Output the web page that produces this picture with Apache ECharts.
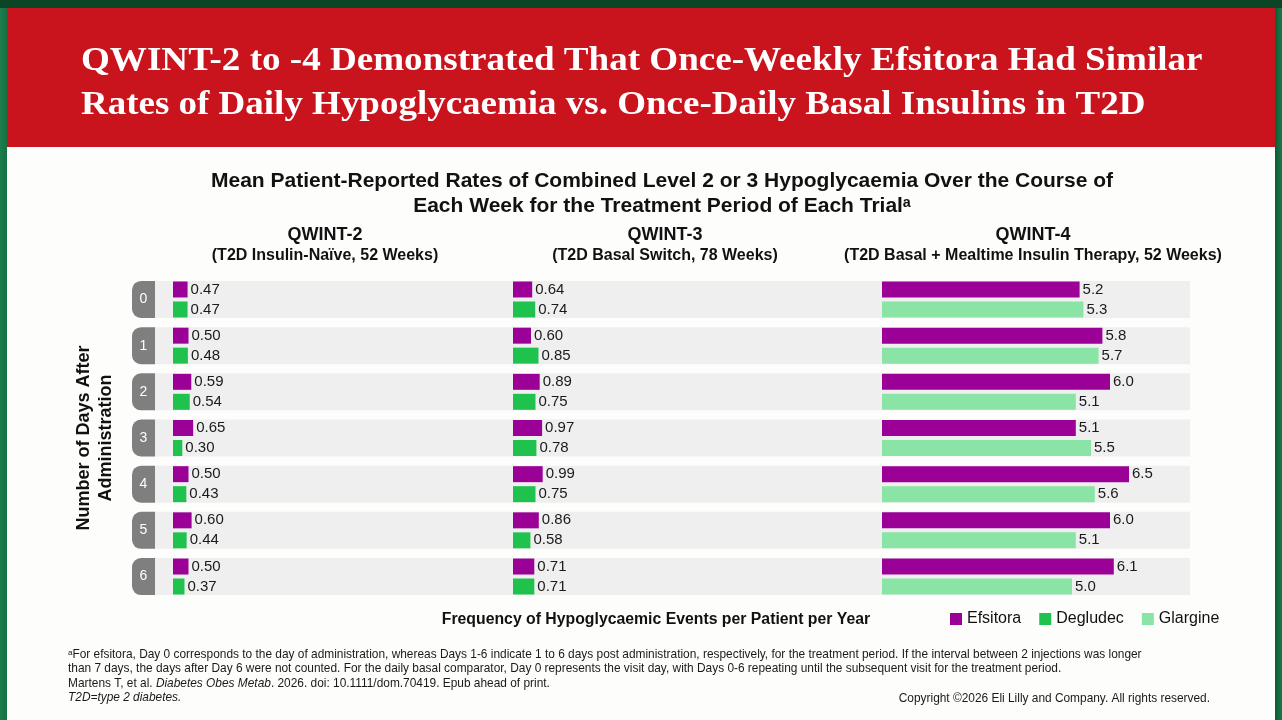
<!DOCTYPE html>
<html>
<head>
<meta charset="utf-8">
<script src="https://cdn.jsdelivr.net/npm/echarts@6/dist/echarts.min.js"></script>
<style>
html,body{margin:0;padding:0;width:1282px;height:720px;overflow:hidden;
  background:linear-gradient(to right,#1c7d4b 0px,#157043 7px,#0f5a35 1275px,#1a7a4a 1282px);}
#top{position:absolute;left:0;top:0;width:1282px;height:8px;background:#0c4526;}
#slide{position:absolute;left:7px;top:8px;width:1268px;height:712px;background:#fdfdfc;}
#band{position:absolute;left:7px;top:8px;width:1268px;height:139px;background:#c9131d;}
#chart{position:absolute;left:0;top:0;width:1282px;height:720px;}
</style>
</head>
<body>
<div id="top"></div>
<div id="slide"></div>
<div id="band"></div>
<div id="chart"></div>
<script>
// ---- data ----
const days = ['0', '1', '2', '3', '4', '5', '6'];
const q2Efsitora = [0.47, 0.50, 0.59, 0.65, 0.50, 0.60, 0.50];
const q2Degludec = [0.47, 0.48, 0.54, 0.30, 0.43, 0.44, 0.37];
const q3Efsitora = [0.64, 0.60, 0.89, 0.97, 0.99, 0.86, 0.71];
const q3Degludec = [0.74, 0.85, 0.75, 0.78, 0.75, 0.58, 0.71];
const q4Efsitora = [5.2, 5.8, 6.0, 5.1, 6.5, 6.0, 6.1];
const q4Glargine = [5.3, 5.7, 5.1, 5.5, 5.6, 5.1, 5.0];
const legendNames = ['Efsitora', 'Degludec', 'Glargine'];

// ---- styles ----
const C_EFS = '#9b0097', C_DEG = '#1ec24c', C_GLA = '#8ae4a5';
const FONT = 'Liberation Sans, Arial, sans-serif';
const SERIF = 'Liberation Serif, Times New Roman, serif';
const TOP = 276.4, HEIGHT = 323.2;

const chart = echarts.init(document.getElementById('chart'));

function grid(left, width) { return { left: left, width: width, top: TOP, height: HEIGHT, containLabel: false }; }
function valAxis(gi, max) {
  return { type: 'value', gridIndex: gi, min: 0, max: max, show: false };
}
function catAxis(gi) {
  return {
    type: 'category', gridIndex: gi, data: days, inverse: true,
    axisLine: { show: false }, axisTick: { show: false }, splitLine: { show: false },
    axisLabel: { show: false }
  };
}
function barSeries(name, gi, data, color, digits) {
  return {
    type: 'bar', name: name, xAxisIndex: gi, yAxisIndex: gi, data: data,
    barWidth: 16, barGap: '25%', itemStyle: { color: color },
    label: {
      show: true, position: 'right', distance: 3,
      formatter: p => Number(p.value).toFixed(digits),
      fontFamily: FONT, fontSize: 15, color: '#1a1a1a'
    },
    emphasis: { disabled: true }
  };
}

const bgAxisY = catAxis(0);
bgAxisY.axisLabel = {
  show: true, margin: 0,
  formatter: v => '{t|' + v + '}',
  rich: {
    t: { width: 23, height: 37, backgroundColor: '#7f7f7f', borderRadius: [9, 0, 0, 9],
         color: '#ffffff', align: 'center', verticalAlign: 'middle', fontSize: 14, fontFamily: FONT }
  }
};
bgAxisY.name = 'Number of Days After\nAdministration';
bgAxisY.nameLocation = 'middle';
bgAxisY.nameRotate = 90;
bgAxisY.nameGap = 38;
bgAxisY.nameTextStyle = { fontFamily: FONT, fontSize: 18, fontWeight: 'bold', color: '#111', lineHeight: 22 };

const headStyle = { fontFamily: FONT, fontSize: 18, fontWeight: 'bold', color: '#111' };
const subStyle = { fontFamily: FONT, fontSize: 16, fontWeight: 'bold', color: '#111' };
function head(x, t, s) {
  return { text: t, subtext: s, left: x, top: 226, padding: 0, textAlign: 'center', itemGap: 4,
           textStyle: headStyle, subtextStyle: subStyle };
}

const footStyle = { fontFamily: FONT, fontSize: 11.9, fontWeight: 'normal', color: '#1a1a1a', lineHeight: 14.5 };
const titleStyle = { fontFamily: SERIF, fontSize: 34.5, fontWeight: 'bold', fill: '#ffffff', verticalAlign: 'middle' };

chart.setOption({
  animation: false,
  graphic: [
    { type: 'text', x: 81, y: 61, scaleX: 1.075, silent: true,
      style: Object.assign({ text: 'QWINT-2 to -4 Demonstrated That Once-Weekly Efsitora Had Similar' }, titleStyle) },
    { type: 'text', x: 81, y: 105, scaleX: 1.072, silent: true,
      style: Object.assign({ text: 'Rates of Daily Hypoglycaemia vs. Once-Daily Basal Insulins in T2D' }, titleStyle) }
  ],
  title: [
    { text: 'Mean Patient-Reported Rates of Combined Level 2 or 3 Hypoglycaemia Over the Course of\nEach Week for the Treatment Period of Each Trial\u1d43',
      left: 662, top: 168.5, padding: 0, textAlign: 'center',
      textStyle: { fontFamily: FONT, fontSize: 21, fontWeight: 'bold', color: '#111', lineHeight: 25, align: 'center' } },
    head(325, 'QWINT-2', '(T2D Insulin-Naïve, 52 Weeks)'),
    head(665, 'QWINT-3', '(T2D Basal Switch, 78 Weeks)'),
    head(1033, 'QWINT-4', '(T2D Basal + Mealtime Insulin Therapy, 52 Weeks)'),
    { text: 'Frequency of Hypoglycaemic Events per Patient per Year', left: 656, top: 611.5, padding: 0, textAlign: 'center',
      textStyle: { fontFamily: FONT, fontSize: 15.8, fontWeight: 'bold', color: '#111' } },
    { text: '{n|\u1d43For efsitora, Day 0 corresponds to the day of administration, whereas Days 1-6 indicate 1 to 6 days post administration, respectively, for the treatment period. If the interval between 2 injections was longer}\n' +
            '{n|than 7 days, the days after Day 6 were not counted. For the daily basal comparator, Day 0 represents the visit day, with Days 0-6 repeating until the subsequent visit for the treatment period.}\n' +
            '{n|Martens T, et al. }{i|Diabetes Obes Metab}{n|. 2026. doi: 10.1111/dom.70419. Epub ahead of print.}\n' +
            '{i|T2D=type 2 diabetes.}',
      left: 68, top: 647, padding: 0,
      textStyle: { fontWeight: 'normal', rich: { n: footStyle, i: Object.assign({}, footStyle, { fontStyle: 'italic' }) } } },
    { text: 'Copyright ©2026 Eli Lilly and Company. All rights reserved.', left: 1210, top: 693, padding: 0, textAlign: 'right',
      textStyle: { fontFamily: FONT, fontSize: 11.9, color: '#1a1a1a', fontWeight: 'normal' } }
  ],
  legend: {
    data: legendNames, left: 950, top: 611, padding: 0, itemWidth: 12, itemHeight: 12, itemGap: 18, icon: 'rect',
    selectedMode: false,
    textStyle: { fontFamily: FONT, fontSize: 16, color: '#111' }
  },
  grid: [grid(155, 1035), grid(173, 310), grid(513, 300), grid(882, 304)],
  xAxis: [valAxis(0, 1), valAxis(1, 10), valAxis(2, 10), valAxis(3, 8)],
  yAxis: [bgAxisY, catAxis(1), catAxis(2), catAxis(3)],
  series: [
    { type: 'bar', name: 'rowband', xAxisIndex: 0, yAxisIndex: 0, data: days.map(() => 1),
      barWidth: '80%', itemStyle: { color: '#efefef' }, silent: true, z: 0,
      emphasis: { disabled: true } },
    barSeries('Efsitora', 1, q2Efsitora, C_EFS, 2),
    barSeries('Degludec', 1, q2Degludec, C_DEG, 2),
    barSeries('Efsitora', 2, q3Efsitora, C_EFS, 2),
    barSeries('Degludec', 2, q3Degludec, C_DEG, 2),
    barSeries('Efsitora', 3, q4Efsitora, C_EFS, 1),
    barSeries('Glargine', 3, q4Glargine, C_GLA, 1)
  ]
});
</script>
</body>
</html>
